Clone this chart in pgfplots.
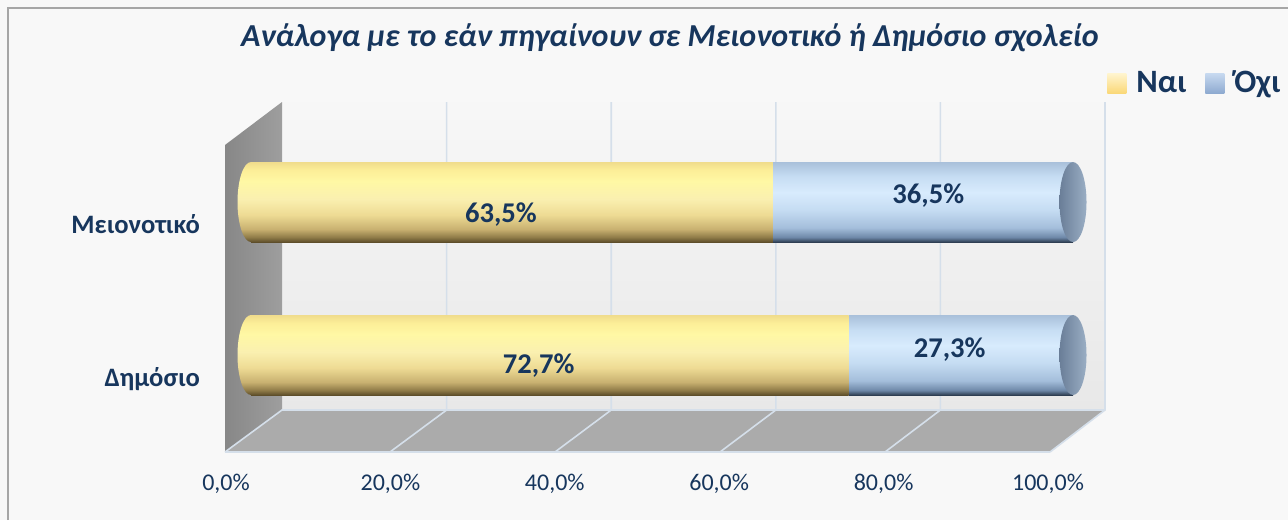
\documentclass[border=0pt]{standalone}
\usepackage{fontspec}
\setmainfont{Carlito}
\usepackage{pgfplots}
\pgfplotsset{compat=1.18}

\definecolor{navy}{HTML}{17365D}
\definecolor{bgc}{HTML}{F8F8F8}
\definecolor{framec}{HTML}{A6A6A6}
\definecolor{floorc}{HTML}{ABABAB}
\definecolor{gridc}{HTML}{D5DFEA}
\definecolor{capL}{HTML}{6A7E98}
\definecolor{capR}{HTML}{9AAEC4}
\definecolor{legYt}{HTML}{FFF5D0}
\definecolor{legYb}{HTML}{FAD878}
\definecolor{legBt}{HTML}{C8DAF0}
\definecolor{legBb}{HTML}{8EAAD0}
% yellow cylinder, bottom to top
\definecolor{ya}{HTML}{5E4E2A}
\definecolor{yb}{HTML}{8F7B48}
\definecolor{yc}{HTML}{C8B070}
\definecolor{yd}{HTML}{EEDB94}
\definecolor{ye}{HTML}{FAF0B0}
\definecolor{yf}{HTML}{FFF8A4}
\definecolor{yg}{HTML}{FCEE98}
\definecolor{yh}{HTML}{F0DC8C}
% blue cylinder, bottom to top
\definecolor{ba}{HTML}{2E3E52}
\definecolor{bb}{HTML}{6E88A8}
\definecolor{bc}{HTML}{A4BEDB}
\definecolor{bd}{HTML}{C5DCF2}
\definecolor{be}{HTML}{D8EBFD}
\definecolor{bf}{HTML}{C6DDF3}
\definecolor{bg}{HTML}{A9C0DA}

\pgfdeclareverticalshading{yellowcyl}{100bp}{color(0bp)=(ya); color(25bp)=(ya);
  color(28bp)=(yb); color(33bp)=(yc); color(42bp)=(yd); color(52bp)=(ye);
  color(63bp)=(yf); color(70bp)=(yg); color(75bp)=(yh); color(100bp)=(yh)}
\pgfdeclareverticalshading{bluecyl}{100bp}{color(0bp)=(ba); color(25bp)=(ba);
  color(28bp)=(bb); color(34bp)=(bc); color(45bp)=(bd); color(56bp)=(be);
  color(66bp)=(bf); color(75bp)=(bg); color(100bp)=(bg)}

\pgfdeclareplotmark{ycap}{\shade[draw=none, shading=yellowcyl] (0pt,0pt) ellipse [x radius=6.75pt, y radius=20pt];}
\pgfdeclareplotmark{bcap}{\shade[draw=none, left color=capL, right color=capR] (0pt,0pt) ellipse [x radius=6.75pt, y radius=20pt];}

\pgfplotsset{
  cylaxis/.style={
    at={(125.5pt,-226pt)}, anchor=south west,
    scale only axis, width=411pt, height=176pt,
    xmin=0, xmax=100, ymin=-0.634, ymax=1.667,
  }
}

\begin{document}
\begin{tikzpicture}[x=0.5pt,y=-0.5pt]
\useasboundingbox (0,0) rectangle (1288,520);
\fill[bgc] (0,0) rectangle (1288,520);
\draw[framec, line width=1.2pt] (8,520) -- (8,8) -- (1288,8);

% back wall, left wall, floor
\shade[top color=black!3, bottom color=black!9] (282,102) rectangle (1105,410);
\shade[left color=black!47, right color=black!38] (225,145) -- (282,102) -- (282,410) -- (225,452) -- cycle;
\fill[floorc] (225,452) -- (282,410) -- (1105,410) -- (1050,452) -- cycle;
\foreach \k in {1,...,5} {
  \draw[gridc, line width=0.8pt] ({282+164.6*\k},102) -- ({282+164.6*\k},410) -- ({225+165*\k},452);
}
\draw[gridc, line width=0.8pt] (225,452) -- (282,410) -- (1105,410);
\draw[gridc, line width=0.8pt] (225,452) -- (1050,452);

\node[font=\fontsize{16}{19}\selectfont\bfseries\itshape, text=navy, anchor=base]
  at (670,46) {Ανάλογα με το εάν πηγαίνουν σε Μειονοτικό ή Δημόσιο σχολείο};

% Μειονοτικό bars, ticks and legend
\begin{axis}[cylaxis,
  xbar stacked, bar width=40pt,
  axis line style={draw=none}, major tick length=0pt,
  xtick={0,20,40,60,80,100},
  xticklabels={{0,0\%},{20,0\%},{40,0\%},{60,0\%},{80,0\%},{100,0\%}},
  xticklabel style={font=\fontsize{12}{14}\selectfont, text=navy, xshift=-12.5pt, yshift=-7.7pt},
  ytick={0,1}, yticklabels={Δημόσιο,Μειονοτικό},
  yticklabel style={font=\fontsize{13.3}{16}\selectfont\bfseries, text=navy,
    anchor=base east, xshift=-22pt, yshift=-15.5pt},
  legend columns=2,
  legend style={at={(1.0413,1.048)}, anchor=west, draw=none, fill=none, inner sep=0pt,
    font=\fontsize{16.3}{19}\selectfont\bfseries, text=navy,
    /tikz/every even column/.append style={column sep=7.5pt}},
  legend cell align=left,
]
\addplot[draw=none, shade, shading=yellowcyl,
  legend image code/.code={\shade[top color=legYt, bottom color=legYb] (0pt,-5pt) rectangle (9.5pt,5pt); \path (12.5pt,0pt);}]
  coordinates {(63.5,1)};
\addlegendentry{Ναι}
\addplot[draw=none, shade, shading=bluecyl,
  legend image code/.code={\shade[top color=legBt, bottom color=legBb] (0pt,-5pt) rectangle (9.5pt,5pt); \path (12.5pt,0pt);}]
  coordinates {(36.5,1)};
\addlegendentry{Όχι}
\end{axis}

% Δημόσιο bars
\begin{axis}[cylaxis, hide axis, xbar stacked, bar width=40pt]
\addplot[draw=none, shade, shading=yellowcyl] coordinates {(72.7,0)};
\addplot[draw=none, shade, shading=bluecyl] coordinates {(27.3,0)};
\end{axis}

% cylinder ends and value labels
\begin{axis}[cylaxis, hide axis, clip=false]
\addplot[only marks, mark=ycap, mark options={draw=none}] coordinates {(0,0) (0,1)};
\addplot[only marks, mark=bcap, mark options={draw=none}] coordinates {(100,0) (100,1)};
\addplot[draw=none, mark=none, nodes near coords, point meta=explicit symbolic,
  every node near coord/.append style={anchor=base, text=navy,
    font=\fontsize{14.3}{17}\selectfont\bfseries}]
  coordinates {(30.4,0.869)[63,5\%] (82.4,0.993)[36,5\%] (35.0,-0.118)[72,7\%] (85.0,-0.013)[27,3\%]};
\end{axis}
\end{tikzpicture}
\end{document}
